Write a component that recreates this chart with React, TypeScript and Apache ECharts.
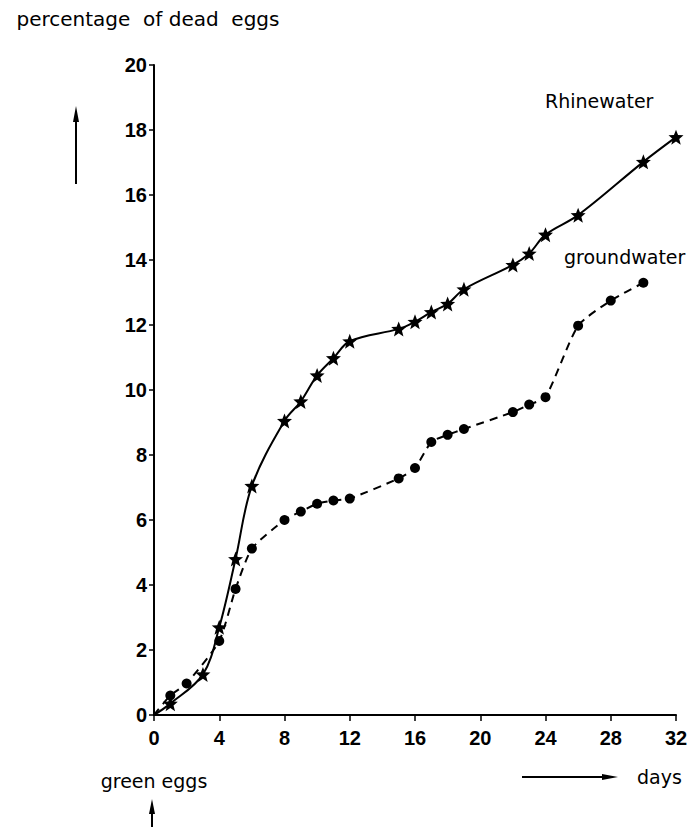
import React, { useEffect, useRef } from "react";
import * as echarts from "echarts";

const rhineDays = [0, 1, 3, 4, 5, 6, 8, 9, 10, 11, 12, 15, 16, 17, 18, 19, 22, 23, 24, 26, 30, 32];
const rhineValues = [0, 0.35, 1.25, 2.7, 4.8, 7.05, 9.05, 9.65, 10.45, 10.98, 11.5, 11.88, 12.1, 12.4, 12.65, 13.1, 13.85, 14.2, 14.78, 15.38, 17.02, 17.78];

const groundDays = [0, 1, 2, 4, 5, 6, 8, 9, 10, 11, 12, 15, 16, 17, 18, 19, 22, 23, 24, 26, 28, 30];
const groundValues = [0, 0.6, 0.97, 2.28, 3.88, 5.12, 6.0, 6.26, 6.5, 6.6, 6.66, 7.28, 7.6, 8.4, 8.62, 8.8, 9.32, 9.55, 9.78, 11.98, 12.75, 13.3];

const xTicks = [0, 4, 8, 12, 16, 20, 24, 28, 32];
const yTicks = [0, 2, 4, 6, 8, 10, 12, 14, 16, 18, 20];

const STAR =
  "path://M0,-10 L2.6,-3.4 L9.5,-3.1 L4.1,1.3 L6,8.1 L0,4.3 L-6,8.1 L-4.1,1.3 L-9.5,-3.1 L-2.6,-3.4 Z";

const TICK_FONT = "'Liberation Sans', Arial, Helvetica, sans-serif";
const TEXT_FONT = "'DejaVu Sans', 'Liberation Sans', sans-serif";

function toData(days: number[], vals: number[]) {
  return days.map((d, i) =>
    d === 0 ? { value: [d, vals[i]], symbol: "none" } : { value: [d, vals[i]] }
  );
}

export default function App() {
  const ref = useRef<HTMLDivElement>(null);
  useEffect(() => {
    if (!ref.current) return;
    const chart = echarts.init(ref.current, null, { renderer: "svg" });
    const arrowStyle = { stroke: "#000", lineWidth: 2 };
    const txt = (text: string, x: number, y: number, align: string, size = 19) => ({
      type: "text",
      x,
      y,
      style: {
        text,
        font: `${size}px ${TEXT_FONT}`,
        fill: "#000",
        textAlign: align,
        textVerticalAlign: "middle",
      },
    });
    chart.setOption({
      animation: false,
      backgroundColor: "#fff",
      grid: { left: 154, right: 20, top: 65, bottom: 120, containLabel: false },
      xAxis: {
        type: "value",
        min: 0,
        max: 32,
        interval: 4,
        splitLine: { show: false },
        axisLine: { lineStyle: { color: "#000", width: 2 } },
        axisTick: { show: true, inside: false, length: 6, lineStyle: { color: "#000", width: 1.5 } },
        axisLabel: {
          color: "#000",
          fontSize: 20,
          fontWeight: "bold",
          fontFamily: TICK_FONT,
          margin: 13,
          formatter: (v: number) => (xTicks.includes(v) ? String(v) : ""),
        },
      },
      yAxis: {
        type: "value",
        min: 0,
        max: 20,
        interval: 2,
        splitLine: { show: false },
        axisLine: { lineStyle: { color: "#000", width: 2 } },
        axisTick: { show: true, inside: false, length: 5, lineStyle: { color: "#000", width: 1.5 } },
        axisLabel: {
          color: "#000",
          fontSize: 20,
          fontWeight: "bold",
          fontFamily: TICK_FONT,
          margin: 7,
          formatter: (v: number) => (yTicks.includes(v) ? String(v) : ""),
        },
      },
      series: [
        {
          name: "Rhinewater",
          type: "line",
          smooth: 0.35,
          data: toData(rhineDays, rhineValues),
          symbol: STAR,
          symbolSize: 15,
          itemStyle: { color: "#000" },
          lineStyle: { color: "#000", width: 2 },
        },
        {
          name: "groundwater",
          type: "line",
          smooth: 0.2,
          data: toData(groundDays, groundValues),
          symbol: "circle",
          symbolSize: 10,
          itemStyle: { color: "#000" },
          lineStyle: { color: "#000", width: 2, type: [8, 6] },
        },
      ],
      graphic: [
        txt("percentage  of dead  eggs", 148, 19, "center", 20),
        txt("Rhinewater", 545, 101, "left"),
        txt("groundwater", 564, 257, "left"),
        txt("green eggs", 154, 781, "center"),
        txt("days", 637, 777, "left"),
        // vertical arrow (y axis)
        { type: "line", shape: { x1: 76, y1: 184, x2: 76, y2: 118 }, style: arrowStyle },
        { type: "polygon", shape: { points: [[76, 106], [73, 122], [79, 122]] }, style: { fill: "#000" } },
        // bottom arrow (green eggs)
        { type: "line", shape: { x1: 152, y1: 835, x2: 152, y2: 810 }, style: arrowStyle },
        { type: "polygon", shape: { points: [[152, 799], [149, 814], [155, 814]] }, style: { fill: "#000" } },
        // horizontal arrow (days)
        { type: "line", shape: { x1: 522, y1: 777, x2: 605, y2: 777 }, style: arrowStyle },
        { type: "polygon", shape: { points: [[618, 777], [602, 774], [602, 780]] }, style: { fill: "#000" } },
      ],
    });
    return () => chart.dispose();
  }, []);
  return <div ref={ref} style={{ width: 696, height: 835, margin: -8 }} />;
}
